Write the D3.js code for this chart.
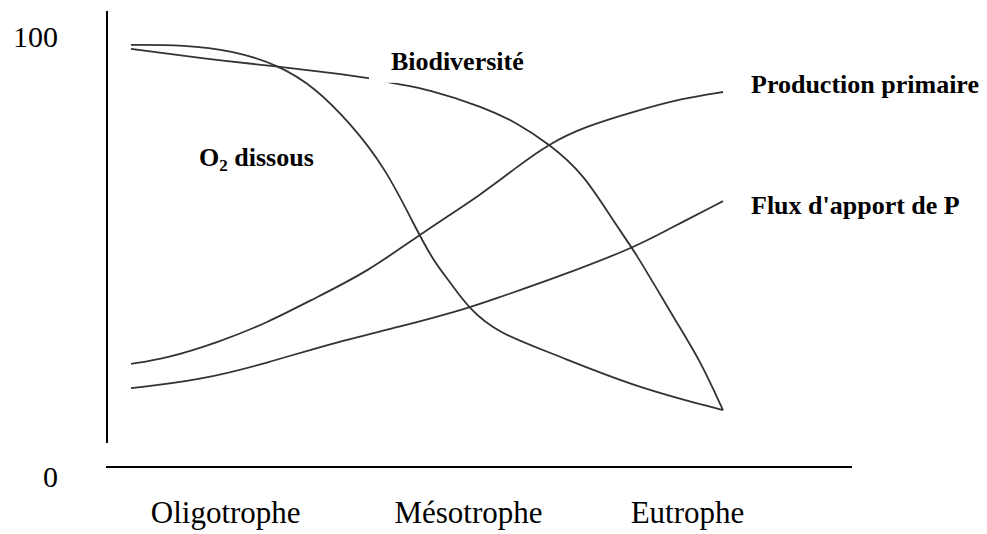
<!DOCTYPE html>
<html>
<head>
<meta charset="utf-8">
<script src="https://cdn.jsdelivr.net/npm/d3@7"></script>
<style>
  body { margin: 0; background: #fff; }
  svg { display: block; }
  svg text { font-family: "Liberation Serif", "Times New Roman", Times, "DejaVu Serif", serif; }
</style>
</head>
<body>
<svg id="chart" width="987" height="534"></svg>
<script>
// trophic gradient position (0-100) and relative level (0-100)
var categories = ["Oligotrophe", "Mésotrophe", "Eutrophe"];
var categoryPos = [16, 57, 94];
var yTicks = [0, 100];

var o2X   = [0, 9, 17, 25, 31, 37, 43, 48, 51, 54, 57, 62, 71, 85, 100];
var o2Y   = [98.2, 98.2, 97, 93.6, 88.6, 80.5, 70.2, 56.8, 49.3, 44.1, 38.4, 32.7, 28.2, 20.5, 15.2];

var bioX  = [0, 11.7, 25.2, 34.1, 40.4, 44.9, 50, 59.5, 65.2, 70.6, 76.4, 82.1, 84.8, 92.2, 96.1, 100];
var bioY  = [97.3, 95.2, 93.2, 91.8, 90.7, 89.3, 88.2, 84.1, 80.5, 75.7, 69.1, 56.8, 52, 35, 26.6, 15.2];

var prodX = [0, 6.1, 14.5, 23, 31.4, 39.9, 49.2, 59.5, 65.2, 70.6, 76.4, 84.8, 93.2, 100];
var prodY = [25.7, 27, 30.5, 35, 40.9, 46.6, 55.5, 64.5, 70.5, 75.7, 79.5, 83, 86.1, 87.5];

var fluxX = [0, 11.7, 23, 34.1, 45.4, 57.1, 62.3, 70.8, 84.8, 90.5, 100];
var fluxY = [20.2, 22, 25.9, 30.5, 34.1, 38.4, 40.9, 44.8, 52, 56.1, 62.7];

var series = [
  { name: "O2 dissous", x: o2X, y: o2Y },
  { name: "Biodiversité", x: bioX, y: bioY },
  { name: "Production primaire", x: prodX, y: prodY },
  { name: "Flux d'apport de P", x: fluxX, y: fluxY }
];

var svg = d3.select("#chart");

var x = d3.scaleLinear().domain([0, 100]).range([131, 723]);
var y = d3.scaleLinear().domain([0, 100]).range([477, 37]);

// axes frame
svg.append("line")
  .attr("x1", 107).attr("x2", 107)
  .attr("y1", 11).attr("y2", 443)
  .attr("stroke", "#000").attr("stroke-width", 2);

svg.append("line")
  .attr("x1", 106).attr("x2", 852)
  .attr("y1", 467).attr("y2", 467)
  .attr("stroke", "#000").attr("stroke-width", 2);

svg.selectAll(".ytick")
  .data(yTicks)
  .enter().append("text")
  .attr("class", "ytick")
  .attr("x", 58)
  .attr("y", function(d) { return y(d) + 10; })
  .attr("text-anchor", "end")
  .style("font-size", "30px")
  .text(function(d) { return d; });

svg.selectAll(".xcat")
  .data(categories)
  .enter().append("text")
  .attr("class", "xcat")
  .attr("x", function(d, i) { return x(categoryPos[i]); })
  .attr("y", 523)
  .attr("text-anchor", "middle")
  .style("font-size", "31px")
  .text(function(d) { return d; });

var line = d3.line()
  .x(function(d) { return x(d[0]); })
  .y(function(d) { return y(d[1]); })
  .curve(d3.curveBasis);

svg.selectAll(".curve")
  .data(series)
  .enter().append("path")
  .attr("class", "curve")
  .attr("d", function(s) { return line(d3.zip(s.x, s.y)); })
  .attr("fill", "none")
  .attr("stroke", "#333")
  .attr("stroke-width", 1.8);

// Biodiversité label sits on a white patch that hides the curve
svg.append("rect")
  .attr("x", x(40.2)).attr("y", y(93) - 23)
  .attr("width", 162).attr("height", 38)
  .attr("fill", "#fff");

function label(txt, px, py) {
  return svg.append("text")
    .attr("x", px).attr("y", py)
    .style("font-weight", "bold").style("font-size", "26px")
    .text(txt);
}

label("Biodiversité", x(43.9), y(92.5));
label("Production primaire", x(100) + 28, y(87.3));
label("Flux d'apport de P", x(100) + 28, y(59.8));

var o2 = label("", x(11.5), y(70.7));
o2.append("tspan").text("O");
o2.append("tspan").attr("dy", 5).style("font-size", "17px").text("2");
o2.append("tspan").attr("dy", -5).text(" dissous");
</script>
</body>
</html>
